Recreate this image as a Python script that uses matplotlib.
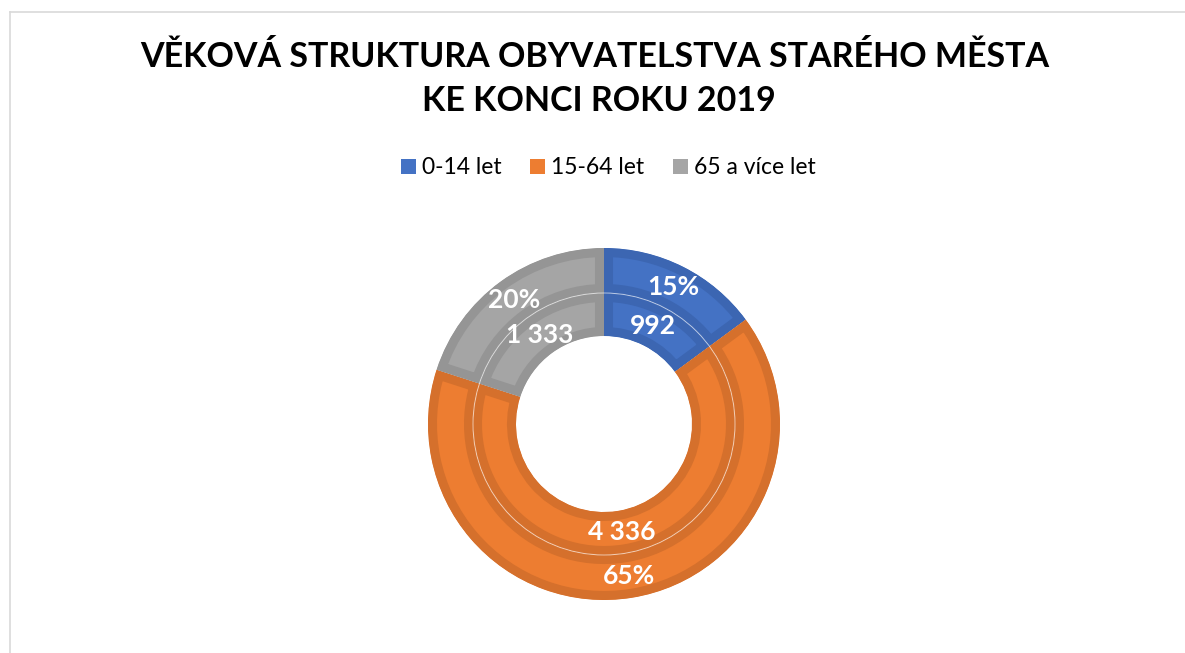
import matplotlib
matplotlib.use("Agg")
import matplotlib.pyplot as plt
import numpy as np
from matplotlib.patches import Circle, Patch
from matplotlib.lines import Line2D

# ---- data ----
categories = ["0-14 let", "15-64 let", "65 a více let"]
values = [992, 4336, 1333]
title_lines = ["VĚKOVÁ STRUKTURA OBYVATELSTVA STARÉHO MĚSTA", "KE KONCI ROKU 2019"]

# ---- style ----
light_colors = ["#4472C4", "#ED7D31", "#A5A5A5"]
dark_colors = ["#3C66B2", "#D5702C", "#959595"]
plt.rcParams['font.family'] = ['Lato', 'DejaVu Sans']

W, H = 1185, 653
fig = plt.figure(figsize=(W / 100, H / 100), dpi=100)
fig.patch.set_facecolor("white")

# chart frame (light gray)
fig.add_artist(Line2D([10 / W, 1.0], [1 - 12 / H, 1 - 12 / H], color="#D9D9D9", lw=1.2))
fig.add_artist(Line2D([10 / W, 10 / W], [0, 1 - 12 / H], color="#D9D9D9", lw=1.2))

# title
fig.text(595 / W, 1 - 57 / H, title_lines[0], ha="center", va="center",
         fontsize=24.5, fontweight="bold", color="black")
fig.text(599 / W, 1 - 101 / H, title_lines[1], ha="center", va="center",
         fontsize=24.5, fontweight="bold", color="black")

# donut axes
cx, cy, R = 604, 424, 176
ax = fig.add_axes([(cx - R) / W, (H - cy - R) / H, 2 * R / W, 2 * R / H])

r_out, r_mid, r_in = 1.0, 131 / 176, 88 / 176
total = sum(values)
pct_labels = [f"{v / total * 100:.0f}%" for v in values]
cnt_labels = [f"{v:,}".replace(",", " ") for v in values]

edge_lw = 13
outer, _ = ax.pie(values, radius=r_out, startangle=90, counterclock=False,
                  colors=light_colors,
                  wedgeprops=dict(width=r_out - r_mid, linewidth=edge_lw))
inner, _ = ax.pie(values, radius=r_mid, startangle=90, counterclock=False,
                  colors=light_colors,
                  wedgeprops=dict(width=r_mid - r_in, linewidth=edge_lw))
for wedges in (outer, inner):
    for w, dc in zip(wedges, dark_colors):
        w.set_edgecolor(dc)
        w.set_clip_path(w)
        w.set_clip_on(True)

ax.add_patch(Circle((0, 0), r_mid, fill=False, edgecolor="white", lw=0.7, alpha=0.6))

for wedges, labels, r0, r1 in ((outer, pct_labels, r_mid, r_out), (inner, cnt_labels, r_in, r_mid)):
    for w, lab in zip(wedges, labels):
        ang = np.deg2rad((w.theta1 + w.theta2) / 2)
        rm = (r0 + r1) / 2
        ax.text(rm * np.cos(ang), rm * np.sin(ang), lab, ha="center", va="center",
                fontsize=19, fontweight="bold", color="white")
ax.set_xlim(-1, 1)
ax.set_ylim(-1, 1)
ax.axis("off")

# legend
handles = [Patch(facecolor=c, edgecolor="none") for c in light_colors]
fig.legend(handles, categories, loc="center", bbox_to_anchor=(608.5 / W, 1 - 168 / H),
           ncol=3, frameon=False, fontsize=16.5, handlelength=0.65, handleheight=0.65,
           handletextpad=0.26, columnspacing=1.26, borderpad=0, borderaxespad=0)

fig.savefig("out.png", dpi=100)
